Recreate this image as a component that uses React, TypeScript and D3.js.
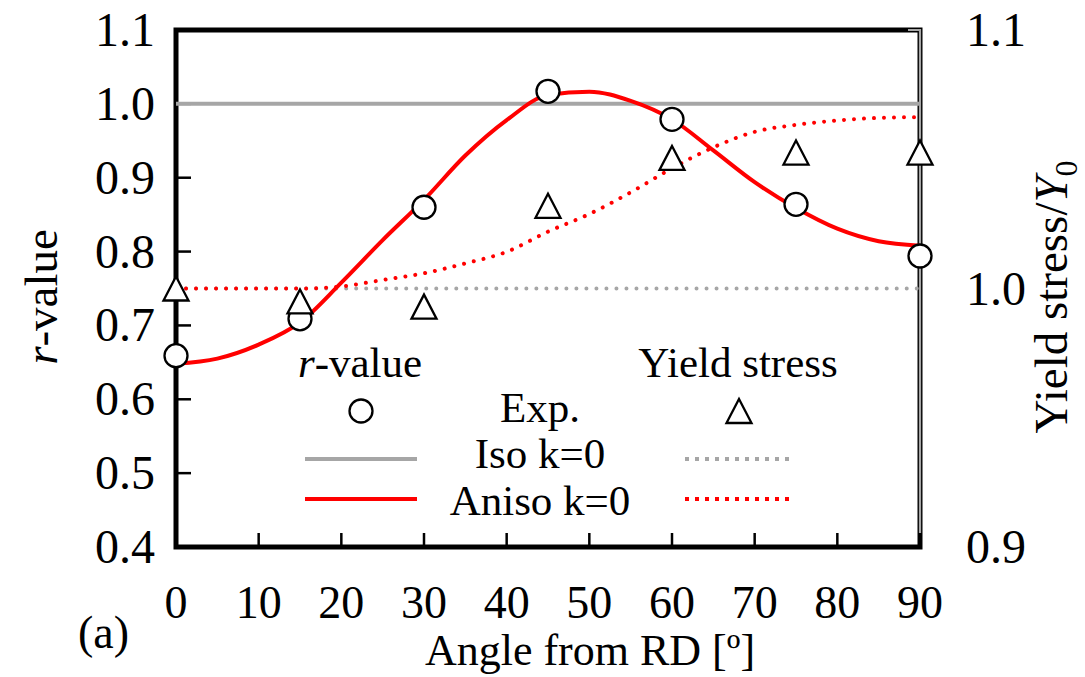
import React from "react";
import * as d3 from "d3";

// Rolling-direction angle of each tensile test (degrees)
const expAngles = [0, 15, 30, 45, 60, 75, 90];
// Measured r-values and normalised yield stresses
const rValueExp = [0.659, 0.709, 0.86, 1.017, 0.979, 0.864, 0.794];
const yieldExp = [1.0, 0.995, 0.993, 1.032, 1.0505, 1.0526, 1.0526];

// Isotropic model (k=0): constant predictions
const isoAngles = [0, 90];
const rValueIso = [1.0, 1.0];
const yieldIso = [1.0, 1.0];

// Anisotropic model (k=0), sampled every 5 degrees
const modelAngles = [0, 5, 10, 15, 20, 25, 30, 35, 40, 45, 50, 55, 60, 65, 70, 75, 80, 85, 90];
const rValueAniso = [
  0.648, 0.655, 0.674, 0.704, 0.758, 0.8155, 0.87, 0.93, 0.978, 1.012, 1.0165, 1.004,
  0.979, 0.937, 0.894, 0.859, 0.831, 0.814, 0.808,
];
const yieldAniso = [
  1.0, 1.0, 1.0, 1.0, 1.0008, 1.0033, 1.0059, 1.0097, 1.0142, 1.022, 1.0288, 1.0372,
  1.0465, 1.0546, 1.0606, 1.0633, 1.065, 1.066, 1.0663,
];

const xTicks = [0, 10, 20, 30, 40, 50, 60, 70, 80, 90];
const rTicks = [0.4, 0.5, 0.6, 0.7, 0.8, 0.9, 1.0, 1.1];
const yieldTicks = [0.9, 1.0, 1.1];

const W = 1085;
const H = 677;
const plot = { left: 176, right: 920, top: 30, bottom: 547 };
const FONT = "'Liberation Serif', 'Times New Roman', serif";
const GREY = "#a6a6a6";
const RED = "#ff0000";

const x = d3.scaleLinear().domain([0, 90]).range([plot.left, plot.right]);
const yR = d3.scaleLinear().domain([0.4, 1.1]).range([plot.bottom, plot.top]);
const yY = d3.scaleLinear().domain([0.9, 1.1]).range([plot.bottom, plot.top]);

const lineR = d3
  .line<[number, number]>()
  .x((d) => x(d[0]))
  .y((d) => yR(d[1]))
  .curve(d3.curveMonotoneX);
const lineY = d3
  .line<[number, number]>()
  .x((d) => x(d[0]))
  .y((d) => yY(d[1]))
  .curve(d3.curveMonotoneX);

const zip = (a: number[], b: number[]) => a.map((v, i) => [v, b[i]] as [number, number]);

const TRI = "M0,-12 L12.5,12 L-12.5,12 Z";

function Circle({ cx, cy }: { cx: number; cy: number }) {
  return <circle cx={cx} cy={cy} r={11.5} fill="#fff" stroke="#000" strokeWidth={2.3} />;
}
function Tri({ cx, cy }: { cx: number; cy: number }) {
  return (
    <path
      d={TRI}
      transform={`translate(${cx},${cy})`}
      fill="#fff"
      stroke="#000"
      strokeWidth={2.3}
      strokeLinejoin="miter"
    />
  );
}

export default function App() {
  const fmt = d3.format(".1f");
  return (
    <svg
      width={W}
      height={H}
      viewBox={`0 0 ${W} ${H}`}
      style={{ position: "absolute", left: 0, top: 0, background: "#fff" }}
      fontFamily={FONT}
    >
      <rect x={0} y={0} width={W} height={H} fill="#fff" />

      {/* plot frame */}
      <rect
        x={plot.left}
        y={plot.top}
        width={plot.right - plot.left}
        height={plot.bottom - plot.top}
        fill="none"
        stroke="#000"
        strokeWidth={5}
      />
      {/* secondary axis line */}
      <path
        d={`M${plot.right - 12},${plot.top} H${plot.right} V${plot.bottom - 14}`}
        fill="none"
        stroke={GREY}
        strokeWidth={2.2}
      />

      {/* left ticks (inward) */}
      {rTicks
        .filter((t) => t > 0.45 && t < 1.05)
        .map((t) => (
          <line key={`lt${t}`} x1={plot.left} x2={plot.left + 15} y1={yR(t)} y2={yR(t)} stroke="#000" strokeWidth={2.5} />
        ))}
      {/* bottom ticks (inward) */}
      {xTicks
        .filter((t) => t > 0 && t < 90)
        .map((t) => (
          <line key={`bt${t}`} x1={x(t)} x2={x(t)} y1={plot.bottom} y2={plot.bottom - 14} stroke="#000" strokeWidth={2.5} />
        ))}

      {/* tick labels */}
      {rTicks.map((t) => (
        <text key={`rl${t}`} x={155} y={yR(t) + 16} fontSize={48} textAnchor="end" fill="#000">
          {fmt(t)}
        </text>
      ))}
      {yieldTicks.map((t) => (
        <text key={`yl${t}`} x={966} y={yY(t) + 16} fontSize={48} textAnchor="start" fill="#000">
          {fmt(t)}
        </text>
      ))}
      {xTicks.map((t) => (
        <text key={`xl${t}`} x={x(t)} y={618} fontSize={46} textAnchor="middle" fill="#000">
          {t}
        </text>
      ))}

      {/* axis titles */}
      <text x={590} y={665} fontSize={44} textAnchor="middle" fill="#000">
        Angle from RD [º]
      </text>
      <text transform="translate(57,297) rotate(-90)" fontSize={47} textAnchor="middle" fill="#000">
        <tspan fontStyle="italic">r</tspan>-value
      </text>
      <text transform="translate(1067,297) rotate(-90)" fontSize={47} textAnchor="middle" fill="#000">
        Yield stress/<tspan fontStyle="italic">Y</tspan>
        <tspan fontSize={32} dy={10}>0</tspan>
      </text>
      <text x={78} y={648} fontSize={46} fill="#000">
        (a)
      </text>

      {/* model curves */}
      <path d={lineR(zip(isoAngles, rValueIso)) || ""} fill="none" stroke={GREY} strokeWidth={4} />
      <path
        d={lineY(zip(isoAngles, yieldIso)) || ""}
        fill="none"
        stroke={GREY}
        strokeWidth={4}
        strokeLinecap="round"
        strokeDasharray="0.01 10"
      />
      <path
        d={lineY(zip(modelAngles, yieldAniso)) || ""}
        fill="none"
        stroke={RED}
        strokeWidth={4}
        strokeLinecap="round"
        strokeDasharray="0.01 10"
      />
      <path d={lineR(zip(modelAngles, rValueAniso)) || ""} fill="none" stroke={RED} strokeWidth={4} />

      {/* experimental points */}
      {expAngles.map((a, i) => (
        <Circle key={`c${a}`} cx={x(a)} cy={yR(rValueExp[i])} />
      ))}
      {expAngles.map((a, i) => (
        <Tri key={`t${a}`} cx={x(a)} cy={yY(yieldExp[i])} />
      ))}

      {/* legend */}
      <g fill="#000" fontSize={43}>
        <text x={360} y={377} textAnchor="middle">
          <tspan fontStyle="italic">r</tspan>-value
        </text>
        <text x={738} y={377} textAnchor="middle">
          Yield stress
        </text>
        <text x={540} y={422} textAnchor="middle">
          Exp.
        </text>
        <text x={540} y={468} textAnchor="middle">
          Iso k=0
        </text>
        <text x={540} y={515} textAnchor="middle">
          Aniso k=0
        </text>
      </g>
      <Circle cx={361} cy={411} />
      <Tri cx={739} cy={411} />
      <line x1={305} x2={417} y1={459} y2={459} stroke={GREY} strokeWidth={4} />
      <line x1={305} x2={417} y1={499} y2={499} stroke={RED} strokeWidth={4} />
      <line x1={685} x2={795} y1={459} y2={459} stroke={GREY} strokeWidth={4} strokeDasharray="4 6" />
      <line x1={685} x2={795} y1={499} y2={499} stroke={RED} strokeWidth={4} strokeDasharray="4 6" />
    </svg>
  );
}
